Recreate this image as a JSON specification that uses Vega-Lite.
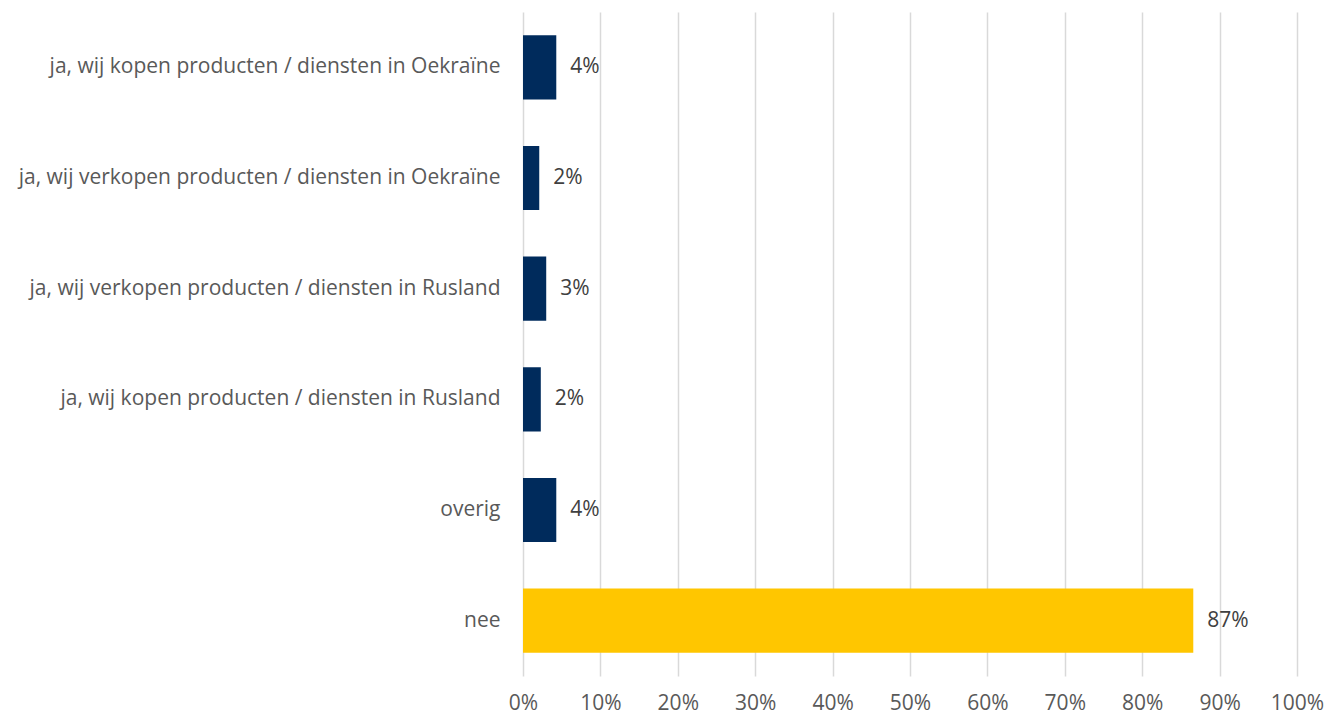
{
  "$schema": "https://vega.github.io/schema/vega-lite/v6.json",
  "width": 774,
  "height": 664,
  "autosize": "none",
  "padding": {"left": 523, "top": 12, "right": 29, "bottom": 39},
  "background": "white",
  "data": {
    "values": [
      {"cat": "ja, wij kopen producten / diensten in Oekraïne", "value": 0.043, "grp": "ja"},
      {"cat": "ja, wij verkopen producten / diensten in Oekraïne", "value": 0.021, "grp": "ja"},
      {"cat": "ja, wij verkopen producten / diensten in Rusland", "value": 0.03, "grp": "ja"},
      {"cat": "ja, wij kopen producten / diensten in Rusland", "value": 0.023, "grp": "ja"},
      {"cat": "overig", "value": 0.043, "grp": "ja"},
      {"cat": "nee", "value": 0.866, "grp": "nee"}
    ]
  },
  "config": {
    "view": {"stroke": null},
    "font": "Open Sans",
    "axis": {"labelFont": "Open Sans", "labelColor": "#595959", "labelFontSize": 21}
  },
  "encoding": {
    "y": {
      "field": "cat", "type": "nominal", "sort": null, "title": null,
      "scale": {"paddingInner": 0.42, "paddingOuter": 0.21},
      "axis": {"domain": false, "ticks": false, "labelPadding": 23, "labelLimit": 520}
    },
    "x": {
      "field": "value", "type": "quantitative", "title": null,
      "scale": {"domain": [0, 1], "nice": false},
      "axis": {"format": ".0%", "values": [0,0.1,0.2,0.3,0.4,0.5,0.6,0.7,0.8,0.9,1], "labelOverlap": false, "domain": false, "ticks": false, "grid": true, "gridColor": "#D9D9D9", "gridWidth": 1.5, "labelPadding": 16, "labelFlush": false}
    }
  },
  "layer": [
    {
      "mark": {"type": "bar"},
      "encoding": {
        "color": {"field": "grp", "type": "nominal", "legend": null,
          "scale": {"domain": ["ja", "nee"], "range": ["#002B5C", "#FFC600"]}}
      }
    },
    {
      "mark": {"type": "text", "align": "left", "dx": 14, "fontSize": 21, "color": "#404040", "font": "Open Sans"},
      "encoding": {
        "text": {"field": "value", "type": "quantitative", "format": ".0%"}
      }
    }
  ]
}
